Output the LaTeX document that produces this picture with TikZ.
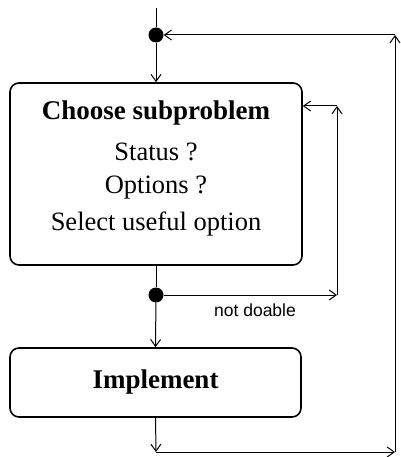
\documentclass[tikz,border=0pt]{standalone}
\usepackage{fontspec}
\setmainfont{Liberation Serif}
\newfontfamily\labelfont{Liberation Sans}
\usetikzlibrary{arrows.meta}
\begin{document}
\begin{tikzpicture}[x=1pt,y=-1pt,
  box/.style={draw,line width=1.6pt,rounded corners=9pt,inner sep=0pt},
  dotnode/.style={circle,fill=black,inner sep=0pt,minimum size=15pt},
  conn/.style={line width=1pt},
  arr/.style={conn,-{Straight Barb[length=7pt,width=10pt,line width=1pt]}},
  bigtxt/.style={font=\fontsize{26.5}{30}\selectfont},
  bigbold/.style={font=\fontsize{27}{30}\selectfont\bfseries},
  small/.style={font=\labelfont\fontsize{17.5}{20}\selectfont}]
\useasboundingbox (0,0) rectangle (400,457);
\node[box,minimum width=292pt,minimum height=182pt] (b1) at (156,174) {};
\node[bigbold] (t1) at (156,113) {Choose subproblem};
\node[bigtxt] (t2) at (156,152) {Status ?};
\node[bigtxt] (t3) at (156,188) {Options ?};
\node[bigtxt] (t4) at (156,224) {Select useful option};
\node[box,minimum width=291pt,minimum height=69pt,bigbold] (b2) at (155.5,382.5) {Implement};
\node[dotnode] (d1) at (156,35) {};
\node[dotnode] (d2) at (156,295) {};
\node[small] (nd) at (255,310) {not doable};
\coordinate (s) at (156,8);
\coordinate (c1) at (337,295);
\coordinate (c2) at (337,106);
\coordinate (o1) at (156,452);
\coordinate (o2) at (395,452);
\coordinate (o3) at (395,35);
\draw[conn] (s) -- (d1);
\draw[arr] (d1) -- (b1.north);
\draw[conn] (b1.south) -- (d2);
\draw[arr] (d2) -- (b2.north);
\draw[arr] (d2) -- (c1);
\draw[arr] (c1) -- (c2);
\draw[arr] (c2) -- (c2 -| b1.east);
\draw[arr] (b2.south) -- (o1);
\draw[arr] (o1) -- (o2);
\draw[arr] (o2) -- (o3);
\draw[arr] (o3) -- (d1);
\end{tikzpicture}
\end{document}
